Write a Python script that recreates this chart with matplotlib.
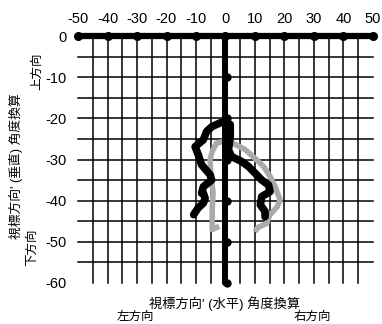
import matplotlib
matplotlib.use("Agg")
import matplotlib.pyplot as plt
import numpy as np

plt.rcParams['font.family'] = ['Liberation Sans', 'Noto Sans CJK JP', 'DejaVu Sans']

# Horizontal / vertical angle ticks
x_ticks = [-50, -40, -30, -20, -10, 0, 10, 20, 30, 40, 50]
y_ticks = [0, -10, -20, -30, -40, -50, -60]

# Traced gaze path (black)
black_x = [-10.8, -9.2, -7.5, -6.9, -7.5, -8.1, -7.5, -4.7, -5.2, -8.1, -9.2, -10.3,
           -7.5, -6.4, -4.6, -1.5, 0.0, 1.6, 1.6, 1.0, 2.1, 5.5, 7.8, 10.0, 12.3,
           14.6, 15.1, 12.3, 11.8, 13.4, 13.4]
black_y = [-43.4, -41.7, -40.6, -39.4, -38.2, -38.2, -36.6, -35.0, -33.7, -31.3, -28.9, -26.9,
           -25.2, -23.2, -22.0, -21.0, -20.8, -21.5, -24.4, -27.7, -29.3, -30.5, -31.7, -33.3, -35.0,
           -36.2, -37.8, -39.0, -41.0, -42.6, -43.9]

# Reference path (gray)
gray_x = [-3.0, -4.5, -4.5, -4.2, -5.0, -5.2, -4.5, -3.0, 0.0, 2.3, 6.5, 10.0,
          12.9, 15.1, 16.8, 18.5, 17.5, 15.0, 14.0, 11.0, 10.5]
gray_y = [-46.5, -47.0, -42.0, -38.0, -34.0, -30.0, -28.0, -26.0, -25.5, -26.0, -27.5, -29.7,
          -31.7, -34.1, -36.6, -39.8, -41.5, -43.5, -45.5, -46.5, -47.0]

W, H = 382, 324
fig = plt.figure(figsize=(W / 100, H / 100), dpi=100)
ax = fig.add_axes([78 / W, 1 - 283 / H, (373 - 78) / W, (283 - 36) / H])
ax.set_xlim(-50, 50)
ax.set_ylim(-60, 0)
for s in ax.spines.values():
    s.set_visible(False)

# grid
for gx in np.arange(-45, 50, 5):
    if gx != 0:
        ax.plot([gx, gx], [0, -60], color='black', lw=1.1, clip_on=False, zorder=1)
for gy in np.arange(-5, -60, -5):
    ax.plot([-50, 50], [gy, gy], color='black', lw=1.1, clip_on=False, zorder=1)

# main axes lines
ax.plot([-50, 50], [0, 0], color='black', lw=4.5, solid_capstyle='round', clip_on=False, zorder=4)
ax.plot(x_ticks, [0] * len(x_ticks), 'o', color='black', ms=5.5, clip_on=False, zorder=4)
ax.plot([0, 0], [0, -60], color='black', lw=4.3, solid_capstyle='round', clip_on=False, zorder=4)
ax.plot([0.6] * len(y_ticks[1:]), y_ticks[1:], 'o', color='black', ms=5, clip_on=False, zorder=4)

# paths
ax.plot(gray_x, gray_y, color='#aaaaaa', lw=4.0, solid_joinstyle='round', zorder=2)
ax.plot(black_x, black_y, color='black', lw=5.5, solid_capstyle='round',
        solid_joinstyle='round', zorder=3)

ax.xaxis.tick_top()
ax.set_xticks(x_ticks)
ax.set_xticklabels([str(v) for v in x_ticks])
ax.set_yticks(y_ticks)
ax.set_yticklabels([str(v) for v in y_ticks])
ax.tick_params(axis='x', length=0, pad=7, labelsize=10.5)
ax.tick_params(axis='y', length=0, pad=8, labelsize=10.5)

def ft(x, y, s, **kw):
    fig.text(x / W, 1 - y / H, s, ha='center', va='center', **kw)

ft(16, 166, "視標方向' (垂直) 角度換算", rotation=90, fontsize=9.2)
ft(37, 71, "上方向", rotation=90, fontsize=9)
ft(32, 247, "下方向", rotation=90, fontsize=9)
ft(225, 304, "視標方向' (水平) 角度換算", fontsize=9.5)
ft(135, 317, "左方向", fontsize=9)
ft(312, 317, "右方向", fontsize=9)

fig.savefig("out.png", dpi=100)
